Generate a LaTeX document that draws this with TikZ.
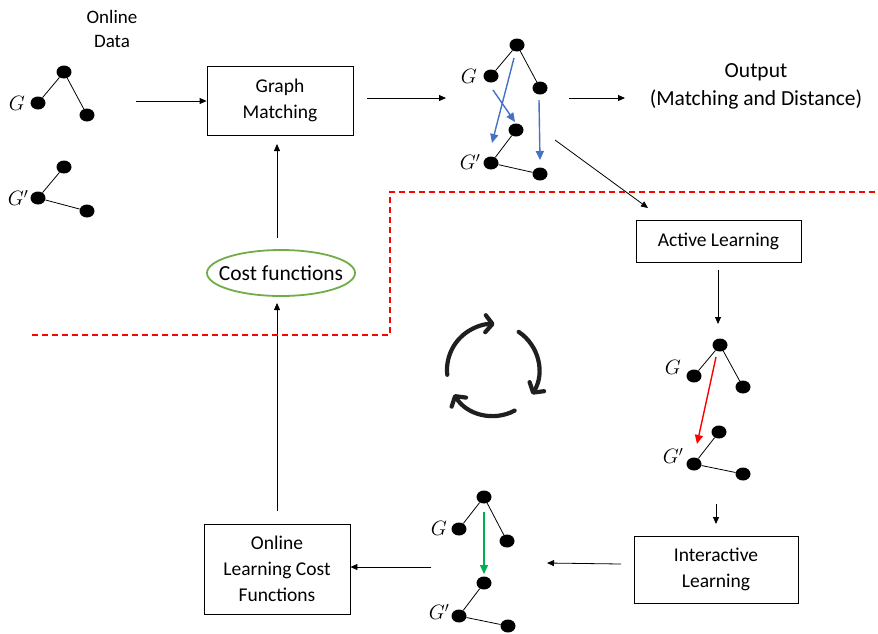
\documentclass[tikz,border=0pt]{standalone}
\usepackage{fontspec}
\setmainfont{Carlito}
\usetikzlibrary{arrows.meta,shapes.geometric}
\definecolor{mblue}{RGB}{68,114,196}
\definecolor{mgreen}{RGB}{0,176,80}
\definecolor{egreen}{RGB}{112,173,71}
\begin{document}
\begin{tikzpicture}[x=1pt,y=-1pt,
  vert/.style={ellipse,fill=black,minimum width=15pt,minimum height=13pt,inner sep=0pt},
  edge/.style={line width=0.8pt},
  glab/.style={font=\fontsize{21}{21}\selectfont,inner sep=0pt},
  box/.style={draw,line width=0.8pt,align=center,font=\fontsize{19.5}{26}\selectfont},
  txt/.style={align=center,font=\fontsize{19}{24}\selectfont},
  arr/.style={-{Triangle[length=7pt,width=6pt]},line width=0.8pt},
  marr/.style={-{Triangle[length=9pt,width=8pt]},line width=1.4pt},
  cyc/.style={line width=4.2pt,line cap=round,color=black!88,-{Straight Barb[length=7pt,width=17pt,line width=4.2pt,round]}}
]
\useasboundingbox (0,0) rectangle (878,633);
% Online data
\node[txt] (od) at (112,29) {Online\\Data};
\node[vert] (a1) at (64,72) {};
\node[vert] (a2) at (38,103) {};
\node[vert] (a3) at (87,115) {};
\draw[edge] (a1)--(a2) (a1)--(a3);
\node[glab] (la) at (17,103) {$G$};
\node[vert] (b1) at (64,167) {};
\node[vert] (b2) at (38,198) {};
\node[vert] (b3) at (87,211) {};
\draw[edge] (b2)--(b1) (b2)--(b3);
\node[glab] (lb) at (18,198) {$G'$};
% Graph matching
\node[box,minimum width=146pt,minimum height=69pt] (gm) at (280,100.5) {Graph\\Matching};
\coordinate (s1) at (136,101);
\draw[arr] (s1) -- (gm.west|-s1);
% matching graph
\node[vert] (c1) at (517,45) {};
\node[vert] (c2) at (491,76) {};
\node[vert] (c3) at (540,88) {};
\draw[edge] (c1)--(c2) (c1)--(c3);
\node[glab] (lc) at (469,76) {$G$};
\node[vert] (d1) at (516,130) {};
\node[vert] (d2) at (491,163) {};
\node[vert] (d3) at (540,174) {};
\draw[edge] (d2)--(d1) (d2)--(d3);
\node[glab] (ld) at (470,162) {$G'$};
\coordinate (m1s) at (514,58); \coordinate (m1e) at (492,143);
\coordinate (m2s) at (493,90); \coordinate (m2e) at (515,122);
\coordinate (m3s) at (539,100); \coordinate (m3e) at (540,160);
\draw[marr,mblue] (m1s) -- (m1e);
\draw[marr,mblue] (m2s) -- (m2e);
\draw[marr,mblue] (m3s) -- (m3e);
\coordinate (s2a) at (367,98); \coordinate (s2b) at (446,98);
\draw[arr] (s2a) -- (s2b);
% output
\node[txt,font=\fontsize{21.5}{28}\selectfont] (out) at (756,86) {Output\\(Matching and Distance)};
\coordinate (s3a) at (569,98); \coordinate (s3b) at (625,98);
\draw[arr] (s3a) -- (s3b);
% active learning
\node[box,minimum width=165pt,minimum height=42pt] (al) at (718.5,241) {Active Learning};
\coordinate (s4a) at (555,140);
\draw[arr] (s4a) -- (648,208);
\coordinate (s5a) at (718,270); \coordinate (s5b) at (718,324);
\draw[arr] (s5a) -- (s5b);
% right graph
\node[vert] (e1) at (720,345) {};
\node[vert] (e2) at (694,376) {};
\node[vert] (e3) at (743,387) {};
\draw[edge] (e1)--(e2) (e1)--(e3);
\node[glab] (le) at (673,367) {$G$};
\node[vert] (f1) at (719,432) {};
\node[vert] (f2) at (694,464) {};
\node[vert] (f3) at (743,474) {};
\draw[edge] (f2)--(f1) (f2)--(f3);
\node[glab] (lf) at (673,456) {$G'$};
\coordinate (rs) at (716,357); \coordinate (re) at (697,444);
\draw[marr,red] (rs) -- (re);
\coordinate (s6a) at (716,504); \coordinate (s6b) at (716,524);
\draw[arr] (s6a) -- (s6b);
% interactive learning
\node[box,minimum width=164pt,minimum height=67pt] (il) at (716,569.5) {Interactive\\Learning};
\coordinate (s7a) at (621,564); \coordinate (s7b) at (547,563);
\draw[arr] (s7a) -- (s7b);
% bottom graph
\node[vert] (g1) at (484,497) {};
\node[vert] (g2) at (459,529) {};
\node[vert] (g3) at (507,541) {};
\draw[edge] (g1)--(g2) (g1)--(g3);
\node[glab] (lg) at (439,528) {$G$};
\node[vert] (h1) at (484,583) {};
\node[vert] (h2) at (459,616) {};
\node[vert] (h3) at (508,626) {};
\draw[edge] (h2)--(h1) (h2)--(h3);
\node[glab] (lh) at (439,612) {$G'$};
\coordinate (gs) at (484,512); \coordinate (ge) at (484,574);
\draw[marr,mgreen] (gs) -- (ge);
% online learning cost functions
\node[box,minimum width=146pt,minimum height=90pt] (ol) at (277,569) {Online\\Learning Cost\\Functions};
\coordinate (s8a) at (431,567);
\draw[arr] (s8a) -- (ol.east|-s8a);
% cost functions
\node[inner sep=0pt,font=\fontsize{21.5}{22}\selectfont] (cf) at (281,273) {Cost functions};
\draw[egreen,line width=1.8pt] (cf.center) ellipse [x radius=74, y radius=23];
\coordinate (s9a) at (277,511); \coordinate (s9b) at (277,303);
\draw[arr] (s9a) -- (s9b);
\coordinate (s10a) at (277,238); \coordinate (s10b) at (277,144);
\draw[arr] (s10a) -- (s10b);
% dashed line
\coordinate (d0) at (32,335); \coordinate (dA) at (390,335); \coordinate (dB) at (390,192); \coordinate (dC) at (878,192);
\draw[red,dashed,line width=1.4pt,dash pattern=on 6pt off 4pt] (d0) -- (dA) -- (dB) -- (dC);
% cycle icon
\begin{scope}[shift={(493,370)},x=1pt,y=1pt]
\draw[cyc] (186:46) arc[start angle=186,end angle=88,radius=46];
\draw[cyc] (56:46) arc[start angle=56,end angle=-32,radius=46];
\draw[cyc] (-62:46) arc[start angle=-62,end angle=-148,radius=46];
\end{scope}
\end{tikzpicture}
\end{document}
